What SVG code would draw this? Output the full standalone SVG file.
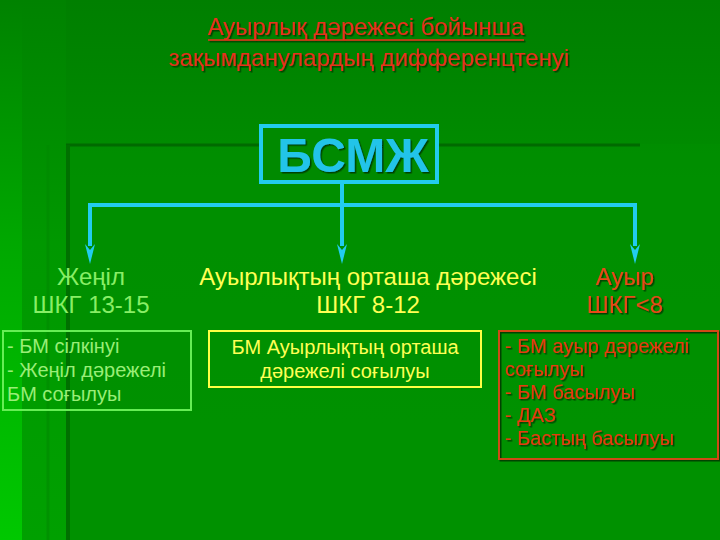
<svg xmlns="http://www.w3.org/2000/svg" width="720" height="540" viewBox="0 0 720 540">
<defs>
<linearGradient id="bg" x1="0" y1="0" x2="0" y2="1">
<stop offset="0" stop-color="#007f00"/>
<stop offset="0.12" stop-color="#008400"/>
<stop offset="0.35" stop-color="#008f00"/>
<stop offset="1" stop-color="#009500"/>
</linearGradient>
<linearGradient id="strip1" x1="0" y1="0" x2="0" y2="1">
<stop offset="0" stop-color="#008200"/>
<stop offset="0.45" stop-color="#00a800"/>
<stop offset="1" stop-color="#00c800"/>
</linearGradient>
<linearGradient id="strip2" x1="0" y1="0" x2="0" y2="1">
<stop offset="0" stop-color="#008200"/>
<stop offset="0.45" stop-color="#009800"/>
<stop offset="1" stop-color="#00a000"/>
</linearGradient>
<filter id="sh" x="-10%" y="-10%" width="130%" height="140%">
<feDropShadow dx="1.5" dy="1.5" stdDeviation="0.4" flood-color="#003300" flood-opacity="0.8"/>
</filter>
</defs>
<style>
text{font-family:"Liberation Sans",Arial,sans-serif}
.t{fill:#e8301a;font-size:24px;text-anchor:middle}
.lg{fill:#88ee66;font-size:24px;text-anchor:middle}
.ye{fill:#ffff55;font-size:24px;text-anchor:middle}
.rd{fill:#e84818;font-size:24px;text-anchor:middle}
.sg{fill:#99ee77;font-size:20px}
.sy{fill:#ffff55;font-size:20px;text-anchor:middle}
.sr{fill:#e83a10;font-size:20px}
.conn{stroke:#22ccee;stroke-width:4;fill:none}
</style>
<rect width="720" height="540" fill="url(#bg)"/>
<rect x="0" y="0" width="22" height="540" fill="url(#strip1)"/>
<rect x="22" y="0" width="44" height="540" fill="url(#strip2)"/>
<rect x="66" y="144" width="654" height="396" fill="#008f00" opacity="0.6"/>
<line x1="66" y1="145" x2="640" y2="145" stroke="#006a00" stroke-width="3"/>
<line x1="68" y1="145" x2="68" y2="540" stroke="#007000" stroke-width="4"/>
<line x1="48" y1="145" x2="48" y2="540" stroke="#008a00" stroke-width="3" opacity="0.6"/>

<g id="title" filter="url(#sh)">
<text class="t" x="366" y="35">Ауырлық дәрежесі бойынша</text>
<line x1="208" y1="40" x2="524" y2="40" stroke="#e8301a" stroke-width="1.5"/>
<text class="t" x="369" y="66">зақымданулардың дифференцтенуі</text>
</g>

<g id="root">
<rect x="261" y="126" width="176" height="56" fill="#008a00" stroke="#22ccee" stroke-width="4"/>
<text x="353" y="172" fill="#22c4e8" font-size="48" font-weight="bold" text-anchor="middle" filter="url(#sh)">БСМЖ</text>
</g>

<g id="connectors">
<line class="conn" x1="342" y1="184" x2="342" y2="205"/>
<line class="conn" x1="88" y1="205" x2="637" y2="205"/>
<line class="conn" x1="90" y1="205" x2="90" y2="246" stroke-width="3"/>
<line class="conn" x1="342" y1="205" x2="342" y2="246" stroke-width="3"/>
<line class="conn" x1="635" y1="205" x2="635" y2="246" stroke-width="3"/>
<path d="M85,244 L90,264 L95,244 L90,250 Z" fill="#22ccee"/>
<path d="M337,244 L342,264 L347,244 L342,250 Z" fill="#22ccee"/>
<path d="M630,244 L635,264 L640,244 L635,250 Z" fill="#22ccee"/>
</g>

<g id="light">
<text class="lg" x="91" y="285">Жеңіл</text>
<text class="lg" x="91" y="313">ШКГ 13-15</text>
<rect x="3" y="331" width="188" height="79" fill="none" stroke="#66ee55" stroke-width="2"/>
<text class="sg" x="7" y="353">- БМ сілкінуі</text>
<text class="sg" x="7" y="377">- Жеңіл дәрежелі</text>
<text class="sg" x="7" y="401">БМ соғылуы</text>
</g>

<g id="medium">
<text class="ye" x="368" y="285">Ауырлықтың орташа дәрежесі</text>
<text class="ye" x="368" y="313">ШКГ 8-12</text>
<rect x="209" y="331" width="272" height="56" fill="none" stroke="#ffff44" stroke-width="2"/>
<text class="sy" x="345" y="354">БМ Ауырлықтың орташа</text>
<text class="sy" x="345" y="378">дәрежелі соғылуы</text>
</g>

<g id="severe" filter="url(#sh)">
<text class="rd" x="625" y="285">Ауыр</text>
<text class="rd" x="625" y="313">ШКГ&lt;8</text>
<rect x="499" y="331" width="219" height="128" fill="none" stroke="#d04a14" stroke-width="2"/>
<text class="sr" x="505" y="353">- БМ ауыр дәрежелі</text>
<text class="sr" x="505" y="376">соғылуы</text>
<text class="sr" x="505" y="399">- БМ басылуы</text>
<text class="sr" x="505" y="422">- ДАЗ</text>
<text class="sr" x="505" y="445">- Бастың басылуы</text>
</g>
</svg>
